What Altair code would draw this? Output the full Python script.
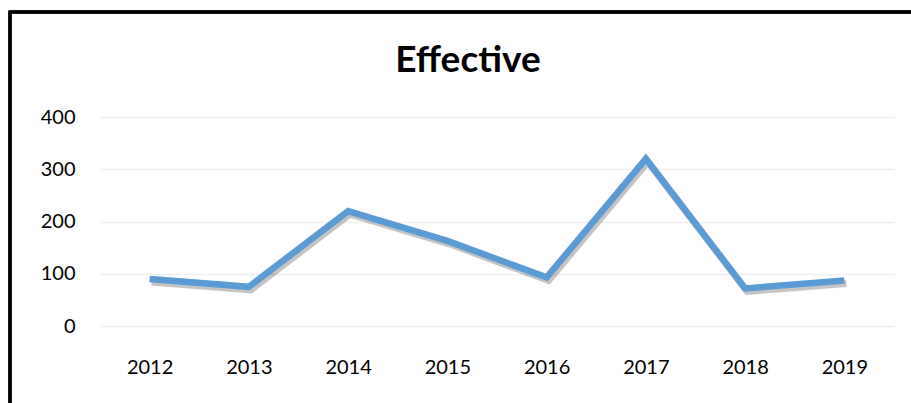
import altair as alt
import pandas as pd

years = ["2012", "2013", "2014", "2015", "2016", "2017", "2018", "2019"]
values = [90, 75, 220, 163, 93, 320, 72, 87]
y_ticks = [0, 100, 200, 300, 400]
title_text = ["Effective"]

df = pd.DataFrame({"year": years, "value": values})
tdf = pd.DataFrame({"t": title_text})

FONT = "Lato"

x_enc = alt.X("year:N", sort=years,
              scale=alt.Scale(type="point", padding=0.5),
              axis=alt.Axis(title=None, domain=False, ticks=False, grid=False,
                            labelAngle=0, labelFont=FONT, labelFontSize=20,
                            labelColor="#000000", labelPadding=31))
y_enc = alt.Y("value:Q", scale=alt.Scale(domain=[0, 400], nice=False),
              axis=alt.Axis(title=None, domain=False, ticks=False, values=y_ticks,
                            grid=True, gridColor="#EFEFEF", gridWidth=1.5,
                            labelFont=FONT, labelFontSize=20, labelColor="#000000",
                            labelPadding=25))

shadow = alt.Chart(df).mark_line(color="#555555", opacity=0.35, strokeWidth=7,
                                 xOffset=2, yOffset=3, strokeJoin="miter",
                                 strokeCap="butt").encode(x=x_enc, y=y_enc)
line = alt.Chart(df).mark_line(color="#5B9BD5", strokeWidth=6.5, strokeJoin="miter",
                               strokeCap="butt").encode(x=x_enc, y=y_enc)

border = alt.Chart(df).mark_rect(fill=None, stroke="#000000", strokeWidth=2.5,
                                 clip=False).encode(
    x=alt.value(-90), x2=alt.value(900), y=alt.value(-105), y2=alt.value(320))

title = alt.Chart(tdf).mark_text(font=FONT, fontSize=37, fontWeight="bold",
                                 color="#000000", align="center",
                                 baseline="alphabetic").encode(
    text="t:N", x=alt.value(368), y=alt.value(-45))

chart = alt.layer(border, shadow, line, title).properties(
    width=794, height=209,
    padding={"left": 100, "top": 117, "right": 17, "bottom": 77},
    autosize=alt.AutoSizeParams(type="none"),
    background="#FFFFFF",
).configure_view(stroke=None)

chart.save("out.html", embed_options={"renderer": "svg", "actions": False})
